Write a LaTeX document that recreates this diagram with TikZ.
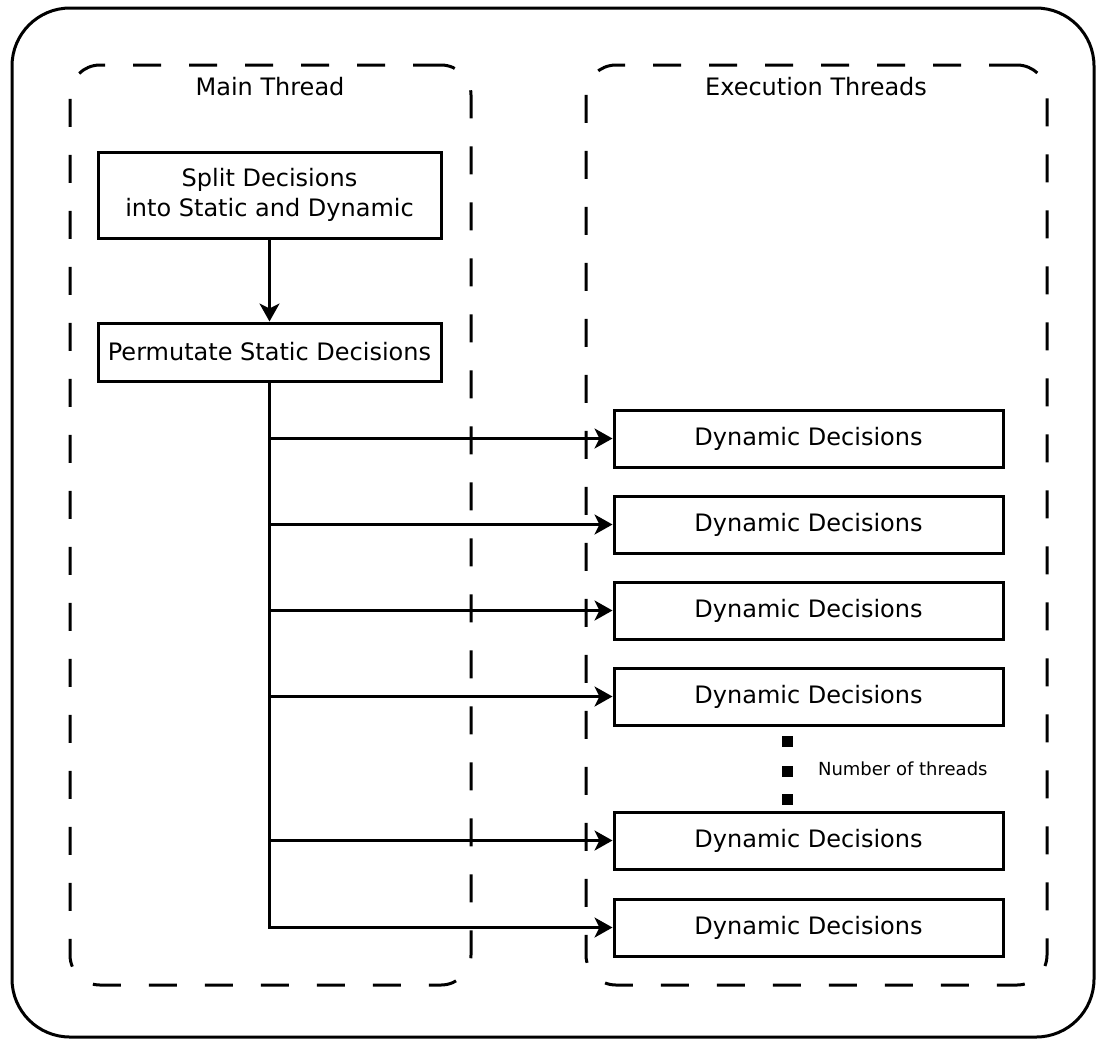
\documentclass[tikz,border=0pt]{standalone}
\usepackage{fontspec}
\setmainfont{DejaVu Sans}
\usetikzlibrary{arrows.meta}
\begin{document}
\begin{tikzpicture}[x=0.5pt,y=-0.5pt]
%\draw[help lines] (0,0) grid (1097,1040);
\tikzstyle{frame}=[rectangle,draw,line width=1.5pt,rounded corners=29pt]
\tikzstyle{lane}=[rectangle,draw,line width=1.5pt,dash pattern=on 14pt off 14pt,rounded corners=15pt]
\tikzstyle{lbl}=[font=\fontsize{12}{15}\selectfont]
\tikzstyle{box}=[rectangle,draw,line width=1.5pt,inner sep=1pt,align=center,font=\fontsize{12}{15}\selectfont]
\tikzstyle{dyn}=[box,minimum width=194.5pt,minimum height=28.5pt]
\tikzstyle{dot}=[rectangle,fill,inner sep=0pt,minimum size=5.5pt]
\tikzstyle{go}=[line width=1.5pt,-{Stealth[length=9pt,width=10pt,inset=2.5pt]}]

\useasboundingbox (0,0) rectangle (1097,1040);

\node[frame,minimum width=541pt,minimum height=514.5pt] (all) at (553,522.5) {};

\node[lane,minimum width=200.5pt,minimum height=460pt] (main) at (270.5,525) {};
\node[lane,minimum width=230.5pt,minimum height=460pt] (exec) at (816.5,525) {};

\node[lbl] (mainlbl) at (270,87) {Main Thread};
\node[lbl] (execlbl) at (816,87) {Execution Threads};

\node[box,minimum width=171.5pt,minimum height=43pt] (split) at (269.5,195) {Split Decisions\\into Static and Dynamic};
\node[box,minimum width=171.5pt,minimum height=29pt] (perm) at (269.5,352) {Permutate Static Decisions};

\node[dyn] (d1) at (808.5,438.5) {Dynamic Decisions};
\node[dyn] (d2) at (808.5,524.5) {Dynamic Decisions};
\node[dyn] (d3) at (808.5,610.5) {Dynamic Decisions};
\node[dyn] (d4) at (808.5,696.5) {Dynamic Decisions};
\node[dyn] (d5) at (808.5,840.5) {Dynamic Decisions};
\node[dyn] (d6) at (808.5,927.5) {Dynamic Decisions};

\node[dot] (k1) at (787.5,741) {};
\node[dot] (k2) at (787.5,771) {};
\node[dot] (k3) at (787.5,799) {};
\node[anchor=west,font=\fontsize{9}{11}\selectfont] (count) at (811,769) {Number of threads};

\path (split.south) edge[go] (perm.north);
\draw[go] (perm.south) |- (d6.west);
\path (perm.south |- d1.west) edge[go] (d1.west);
\path (perm.south |- d2.west) edge[go] (d2.west);
\path (perm.south |- d3.west) edge[go] (d3.west);
\path (perm.south |- d4.west) edge[go] (d4.west);
\path (perm.south |- d5.west) edge[go] (d5.west);
\end{tikzpicture}
\end{document}
